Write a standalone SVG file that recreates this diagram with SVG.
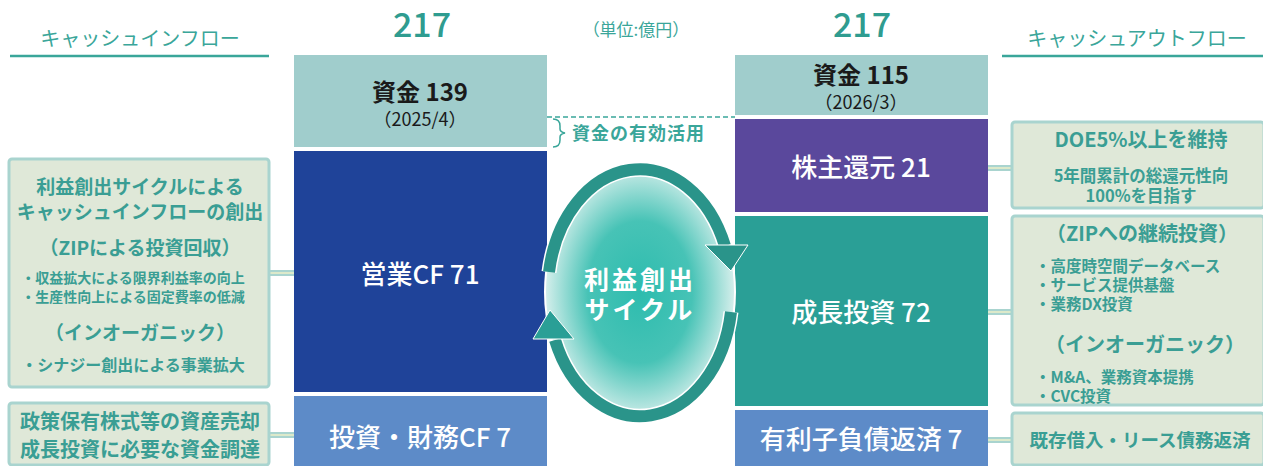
<svg xmlns="http://www.w3.org/2000/svg" width="1263" height="466" viewBox="0 0 1263 466">
<defs>
<style>
text{font-family:"Noto Sans CJK JP","Noto Sans",sans-serif;text-anchor:middle}
.hdr{fill:#3aa69a;font-size:20px}
.tot{fill:#2f9c90;font-size:34px;font-weight:500}
.unit{fill:#3aa69a;font-size:17px}
.big{fill:#fff;font-size:26px;font-weight:500}
.fund{fill:#1a1a1a;font-size:24px;font-weight:700}
.date{fill:#1a1a1a;font-size:18px}
.tb{fill:#dfe8d8;stroke:#a9d4cf;stroke-width:3}
.t1{fill:#3a9e94;font-size:19px;font-weight:700}
.t2{fill:#3a9e94;font-size:14px;font-weight:700}
.t3{fill:#3a9e94;font-size:15.5px;font-weight:700}
.conn{stroke:#a9d4cf;stroke-width:6;fill:none}
.conn2{stroke:#eef0c8;stroke-width:1.5;fill:none}
.band{stroke:#2a948a;stroke-width:12;fill:none}
.bandw{stroke:#fff;stroke-width:15;fill:none}
</style>
<radialGradient id="eg" cx="50%" cy="50%" r="50%">
<stop offset="0" stop-color="#2dbcae"/>
<stop offset="0.55" stop-color="#47c3b6"/>
<stop offset="1" stop-color="#d6efec"/>
</radialGradient>
</defs>

<g id="headers">
<text class="hdr" x="140" y="46">キャッシュインフロー</text>
<line x1="10" y1="56" x2="269" y2="56" stroke="#3aa69a" stroke-width="2.5"/>
<text class="hdr" x="1137" y="46">キャッシュアウトフロー</text>
<line x1="1002" y1="56" x2="1263" y2="56" stroke="#3aa69a" stroke-width="2.5"/>
<text class="tot" x="422" y="37">217</text>
<text class="tot" x="862" y="37">217</text>
<text class="unit" x="636" y="36">（単位:億円）</text>
</g>

<g id="connectors">
<line class="conn" x1="270" y1="273" x2="294" y2="273"/><line class="conn2" x1="270" y1="273" x2="294" y2="273"/>
<line class="conn" x1="270" y1="435" x2="294" y2="435"/><line class="conn2" x1="270" y1="435" x2="294" y2="435"/>
<line class="conn" x1="988" y1="168" x2="1012" y2="168"/><line class="conn2" x1="988" y1="168" x2="1012" y2="168"/>
<line class="conn" x1="988" y1="312" x2="1012" y2="312"/><line class="conn2" x1="988" y1="312" x2="1012" y2="312"/>
<line class="conn" x1="988" y1="440" x2="1012" y2="440"/><line class="conn2" x1="988" y1="440" x2="1012" y2="440"/>
<line x1="547" y1="117" x2="735" y2="117" stroke="#3aa69a" stroke-width="1.5" stroke-dasharray="5,3"/>
</g>

<g id="fund-start">
<rect x="294" y="55" width="253" height="92" fill="#a0cdcc"/>
<text class="fund" x="420" y="101">資金 139</text>
<text class="date" x="420" y="126">（2025/4）</text>
</g>
<g id="op-cf">
<rect x="294" y="151" width="253" height="241" fill="#1f4399"/>
<text class="big" x="420" y="284">営業CF 71</text>
</g>
<g id="inv-cf">
<rect x="294" y="396" width="253" height="70" fill="#5d8bc8"/>
<text class="big" x="420" y="447">投資・財務CF 7</text>
</g>

<g id="fund-end">
<rect x="735" y="55" width="253" height="60" fill="#a0cdcc"/>
<text class="fund" x="861" y="84">資金 115</text>
<text class="date" x="861" y="109">（2026/3）</text>
</g>
<g id="shareholder">
<rect x="735" y="119" width="253" height="93" fill="#5a489c"/>
<text class="big" x="861" y="177">株主還元 21</text>
</g>
<g id="growth">
<rect x="735" y="216" width="253" height="190" fill="#2a9f96"/>
<text class="big" x="861" y="322">成長投資 72</text>
</g>
<g id="debt">
<rect x="735" y="410" width="253" height="56" fill="#5d8bc8"/>
<text class="big" x="861" y="449">有利子負債返済 7</text>
</g>

<g id="effective-use">
<path d="M553 119 Q560 119 560 126 L560 129 Q560 132 565 133 Q560 134 560 137 L560 140 Q560 147 553 147" fill="none" stroke="#3aa69a" stroke-width="1.5"/>
<text x="572" y="140" style="text-anchor:start;fill:#3aa69a;font-size:18px;font-weight:700;letter-spacing:1px">資金の有効活用</text>
</g>

<g id="cycle">
<ellipse cx="640" cy="292" rx="95" ry="129" fill="url(#eg)" stroke="#fff" stroke-width="2"/>
<path class="bandw" d="M549 272 A92 123 0 0 1 725 246"/>
<path class="band" d="M549 272 A92 123 0 0 1 725 246"/>
<polygon points="705,245 748,245 731,271" fill="#2a948a" stroke="#fff" stroke-width="1"/>
<path class="bandw" d="M731 312 A92 123 0 0 1 555 340"/>
<path class="band" d="M731 312 A92 123 0 0 1 555 340"/>
<polygon points="533,339 574,339 550,310" fill="#2a9f96" stroke="#fff" stroke-width="1"/>
<text x="640" y="289" style="fill:#fff;font-size:25px;font-weight:700;letter-spacing:3px">利益創出</text>
<text x="640" y="319" style="fill:#fff;font-size:25px;font-weight:700;letter-spacing:3px">サイクル</text>
</g>

<g id="in-box1">
<rect class="tb" x="9" y="159" width="260" height="228" rx="3"/>
<text class="t1" x="140" y="194">利益創出サイクルによる</text>
<text class="t1" x="140" y="219">キャッシュインフローの創出</text>
<text class="t1" x="140" y="255">（ZIPによる投資回収）</text>
<text class="t2" x="133" y="283">・収益拡大による限界利益率の向上</text>
<text class="t2" x="133" y="302">・生産性向上による固定費率の低減</text>
<text class="t1" x="140" y="340">（インオーガニック）</text>
<text class="t3" x="133" y="371" style="font-size:16px">・シナジー創出による事業拡大</text>
</g>
<g id="in-box2">
<rect class="tb" x="9" y="403" width="260" height="62" rx="3"/>
<text class="t1" x="140" y="429" style="font-size:20px">政策保有株式等の資産売却</text>
<text class="t1" x="140" y="457" style="font-size:20px">成長投資に必要な資金調達</text>
</g>

<g id="out-box1">
<rect class="tb" x="1012" y="122" width="252" height="86" rx="3"/>
<text class="t1" x="1141" y="147" style="font-size:20px">DOE5%以上を維持</text>
<text class="t3" x="1141" y="182" style="font-size:16.5px">5年間累計の総還元性向</text>
<text class="t3" x="1141" y="202" style="font-size:16.5px">100%を目指す</text>
</g>
<g id="out-box2">
<rect class="tb" x="1012" y="216" width="252" height="189" rx="3"/>
<text class="t1" x="1142" y="241" style="font-size:20px">（ZIPへの継続投資）</text>
<text class="t3" x="1035" y="272" style="text-anchor:start">・高度時空間データベース</text>
<text class="t3" x="1035" y="291" style="text-anchor:start">・サービス提供基盤</text>
<text class="t3" x="1035" y="310" style="text-anchor:start">・業務DX投資</text>
<text class="t1" x="1145" y="352" style="font-size:20px">（インオーガニック）</text>
<text class="t3" x="1035" y="383" style="text-anchor:start">・M&amp;A、業務資本提携</text>
<text class="t3" x="1035" y="402" style="text-anchor:start">・CVC投資</text>
</g>
<g id="out-box3">
<rect class="tb" x="1012" y="413" width="252" height="52" rx="3"/>
<text class="t1" x="1140" y="447" style="font-size:18.5px">既存借入・リース債務返済</text>
</g>
</svg>
